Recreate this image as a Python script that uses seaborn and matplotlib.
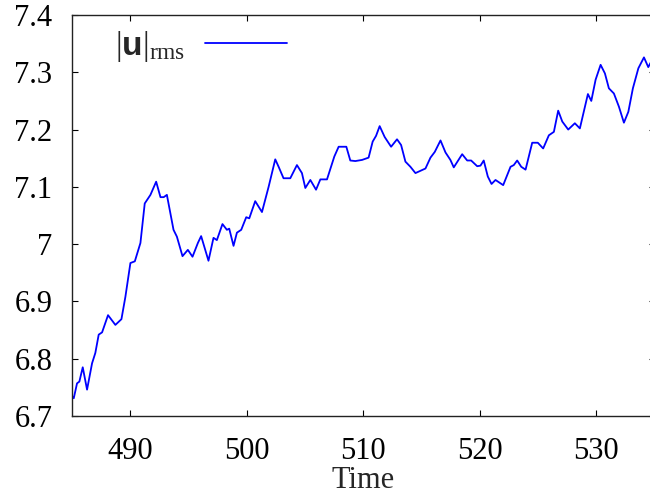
import numpy as np
import pandas as pd
import matplotlib
matplotlib.use("Agg")
import matplotlib.pyplot as plt
from matplotlib.ticker import FormatStrFormatter
import seaborn as sns

# values (time, |u|_rms)
time = [485.0, 485.15, 485.43, 485.63, 485.92, 486.29, 486.72, 487.0, 487.29, 487.58,
        488.09, 488.72, 489.24, 489.58, 490.01, 490.39, 490.87, 491.24, 491.73, 492.22,
        492.59, 492.87, 493.14, 493.71, 494.0, 494.48, 494.94, 495.34, 495.8, 496.08,
        496.71, 497.14, 497.43, 497.91, 498.29, 498.49, 498.86, 499.15, 499.52, 499.95,
        500.21, 500.72, 501.3, 501.87, 502.44, 502.73, 503.15, 503.73, 504.3, 504.73,
        505.02, 505.45, 505.94, 506.31, 506.88, 507.51, 507.88, 508.54, 508.88, 509.31,
        509.89, 510.45, 510.8, 511.09, 511.4, 511.83, 512.38, 512.89, 513.24, 513.61,
        514.04, 514.47, 515.33, 515.76, 516.13, 516.62, 517.05, 517.47, 517.76, 518.48,
        518.91, 519.25, 519.77, 520.05, 520.33, 520.68, 521.0, 521.34, 522.0, 522.63,
        522.91, 523.2, 523.55, 523.92, 524.49, 524.97, 525.43, 525.92, 526.35, 526.72,
        527.07, 527.58, 528.15, 528.58, 529.27, 529.56, 529.93, 530.36, 530.73, 531.07,
        531.5, 531.93, 532.36, 532.74, 533.13, 533.6, 534.08, 534.45, 534.66]
urms = [6.735, 6.731, 6.757, 6.760, 6.785, 6.746, 6.792, 6.810, 6.842, 6.846,
        6.876, 6.859, 6.869, 6.908, 6.967, 6.970, 7.002, 7.071, 7.086, 7.109,
        7.082, 7.082, 7.086, 7.025, 7.013, 6.979, 6.990, 6.978, 7.002, 7.014,
        6.971, 7.011, 7.007, 7.035, 7.025, 7.027, 6.997, 7.020, 7.025, 7.047,
        7.045, 7.075, 7.056, 7.100, 7.148, 7.135, 7.115, 7.115, 7.138, 7.124,
        7.098, 7.112, 7.095, 7.113, 7.113, 7.153, 7.170, 7.170, 7.146, 7.145,
        7.147, 7.151, 7.179, 7.189, 7.206, 7.187, 7.170, 7.183, 7.173, 7.144,
        7.135, 7.124, 7.132, 7.151, 7.161, 7.181, 7.160, 7.147, 7.134, 7.157,
        7.146, 7.146, 7.136, 7.137, 7.146, 7.118, 7.105, 7.112, 7.103, 7.135,
        7.138, 7.146, 7.135, 7.130, 7.177, 7.177, 7.167, 7.190, 7.196, 7.233,
        7.214, 7.200, 7.211, 7.202, 7.262, 7.250, 7.287, 7.313, 7.298, 7.272,
        7.263, 7.240, 7.212, 7.231, 7.272, 7.307, 7.326, 7.309, 7.317]

xticks = [490, 500, 510, 520, 530]
yticks = [6.7, 6.8, 6.9, 7.0, 7.1, 7.2, 7.3, 7.4]

df = pd.DataFrame({"Time": time, "urms": urms})

sns.set_style("ticks")
plt.rcParams["font.family"] = ["Liberation Serif", "DejaVu Serif"]
plt.rcParams["mathtext.fontset"] = "custom"
plt.rcParams["mathtext.rm"] = "Liberation Serif"
plt.rcParams["mathtext.it"] = "Liberation Serif:italic"
plt.rcParams["mathtext.bf"] = "Liberation Sans:bold"

fs = 22

fig = plt.figure(figsize=(6.5, 4.98), dpi=100)
ax = fig.add_axes([0.1108, 0.1647, 0.8964, 0.8052])

sns.lineplot(data=df, x="Time", y="urms", ax=ax, color="#0000ff", lw=1.3,
             estimator=None, sort=False, label=r"$|\mathbf{u}|_{\rm rms}$",
             solid_joinstyle="round")

ax.set_xlim(485, 535)
ax.set_ylim(6.7, 7.4)
ax.set_xticks(xticks)
ax.set_yticks(yticks)
ax.yaxis.set_major_formatter(FormatStrFormatter("%g"))
ax.tick_params(direction="in", top=True, right=True, length=4.5, width=0.8,
               labelsize=fs, colors="black")
ax.tick_params(axis="y", pad=14)
ax.tick_params(axis="x", pad=15)
for s in ax.spines.values():
    s.set_linewidth(1.0)
    s.set_color("#222222")

ax.set_xlabel("Time", fontsize=fs, labelpad=0)
ax.set_ylabel("")

ax.legend(loc="upper left", bbox_to_anchor=(0.074, 0.965), frameon=False,
          markerfirst=False, handlelength=2.45, handletextpad=0.6,
          borderpad=0, borderaxespad=0, fontsize=24)

fig.savefig("out.png", dpi=100)
